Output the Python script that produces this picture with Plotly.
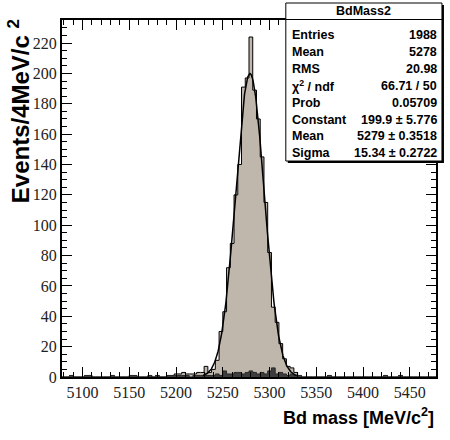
import numpy as np
import plotly.graph_objects as go

# ---------------- data ----------------
bin_low = 5078.0
bin_width = 4.0
total_counts = [
    0, 0, 1, 0, 0, 0, 1, 1, 0, 0,
    0, 0, 0, 1, 0, 0, 0, 0, 1, 1,
    0, 0, 0, 1, 0, 1, 0, 0, 1, 1,
    2, 2, 3, 2, 2, 2, 3, 3, 7, 3,
    5, 11, 30, 43, 72, 88, 120, 140, 191, 197,
    224, 189, 170, 145, 115, 82, 46, 36, 22, 12,
    7, 6, 3, 1, 0, 0, 0, 0, 0, 0,
    0, 1, 0, 0, 0, 0, 0, 0, 0, 0,
    0, 0, 0, 0, 0, 0, 1, 0, 0, 0,
    1, 0, 0, 0, 0, 0, 0, 0, 0, 0,
]
bkg_counts = [
    0, 0, 1, 0, 0, 0, 1, 1, 0, 0,
    0, 0, 0, 1, 0, 0, 0, 0, 1, 1,
    0, 0, 0, 1, 0, 1, 0, 0, 1, 1,
    1, 1, 1, 1, 0, 1, 1, 1, 1, 1,
    1, 2, 1, 4, 2, 2, 3, 3, 2, 3,
    4, 3, 2, 3, 2, 4, 6, 2, 3, 2,
    1, 2, 1, 1, 0, 0, 0, 0, 0, 0,
    0, 1, 0, 0, 0, 0, 0, 0, 0, 0,
    0, 0, 0, 0, 0, 0, 1, 0, 0, 0,
    1, 0, 0, 0, 0, 0, 0, 0, 0, 0,
]
fit_constant = 199.9
fit_mean = 5279.0
fit_sigma = 15.34
fit_range = [5229.0, 5329.0]

x_ticks = [5100, 5150, 5200, 5250, 5300, 5350, 5400, 5450]
y_ticks = [0, 20, 40, 60, 80, 100, 120, 140, 160, 180, 200, 220]

stats_title = "BdMass2"
stats_labels = ["Entries", "Mean", "RMS", "χ<sup>2</sup> / ndf", "Prob", "Constant", "Mean", "Sigma"]
stats_values = ["1988", "5278", "20.98", "66.71 / 50", "0.05709",
                "199.9 ± 5.776", "5279 ± 0.3518", "15.34 ± 0.2722"]

# ---------------- figure ----------------
W, H = 450, 440
ML, MR, MT, MB = 62, 12, 20, 63
PW, PH = W - ML - MR, H - MT - MB

def px(xp):
    return (xp - ML) / PW

def py(yp):
    return (H - MB - yp) / PH

edges = [bin_low + bin_width * i for i in range(len(total_counts) + 1)]

fig = go.Figure()
fig.add_trace(go.Scatter(
    x=edges, y=total_counts + [total_counts[-1]], mode="lines", line_shape="hv",
    fill="tozeroy", fillcolor="#bfb6ac", line=dict(color="black", width=1),
    hoverinfo="skip", showlegend=False))
fig.add_trace(go.Scatter(
    x=edges, y=bkg_counts + [bkg_counts[-1]], mode="lines", line_shape="hv",
    fill="tozeroy", fillcolor="#3d3d3d", line=dict(color="#2a2a2a", width=1),
    hoverinfo="skip", showlegend=False))

xf = np.linspace(fit_range[0], fit_range[1], 400)
yf = fit_constant * np.exp(-0.5 * ((xf - fit_mean) / fit_sigma) ** 2)
fig.add_trace(go.Scatter(x=xf, y=yf, mode="lines", line=dict(color="black", width=1.5),
                         hoverinfo="skip", showlegend=False))

serif = "Liberation Serif, Times New Roman, DejaVu Serif, serif"
tickfont = dict(family=serif, size=16, color="#222")
axcommon = dict(ticks="inside", ticklen=10, tickwidth=1, tickcolor="black",
                mirror="allticks", showline=True, linewidth=2, linecolor="black",
                showgrid=False, zeroline=False, tickfont=tickfont)

fig.update_xaxes(range=[bin_low, bin_low + bin_width * len(total_counts)],
                 tickvals=x_ticks, ticktext=[str(v) for v in x_ticks],
                 minor=dict(ticks="inside", ticklen=5, dtick=10, tick0=5100,
                            tickcolor="black", tickwidth=1, showgrid=False),
                 **axcommon)
fig.update_yaxes(range=[0, 235.2], tickvals=y_ticks, ticktext=[str(v) for v in y_ticks],
                 minor=dict(ticks="inside", ticklen=5, dtick=5, tick0=0,
                            tickcolor="black", tickwidth=1, showgrid=False),
                 **axcommon)

shapes = []
annotations = []
# stats box with shadow
bx0, bx1, by0, by1 = 287, 444, 3, 161
shapes.append(dict(type="rect", xref="paper", yref="paper",
                   x0=px(bx0 + 2), x1=px(bx1 + 2), y0=py(by1 + 2), y1=py(by0 + 2),
                   fillcolor="black", line=dict(width=0)))
shapes.append(dict(type="rect", xref="paper", yref="paper",
                   x0=px(bx0), x1=px(bx1), y0=py(by1), y1=py(by0),
                   fillcolor="white", line=dict(color="black", width=1)))
shapes.append(dict(type="line", xref="paper", yref="paper",
                   x0=px(bx0), x1=px(bx1), y0=py(19.5), y1=py(19.5),
                   line=dict(color="black", width=1)))

boxfont = dict(family="Liberation Sans", size=12.5, color="black")
annotations.append(dict(xref="paper", yref="paper", x=px((bx0 + bx1) / 2), y=py(11),
                        text="<b>%s</b>" % stats_title, showarrow=False,
                        xanchor="center", yanchor="middle", font=boxfont))
for i, (lab, val) in enumerate(zip(stats_labels, stats_values)):
    yy = py(35 + i * 16.9)
    annotations.append(dict(xref="paper", yref="paper", x=px(bx0 + 4), y=yy,
                            text="<b>%s</b>" % lab, showarrow=False,
                            xanchor="left", yanchor="middle", font=boxfont))
    annotations.append(dict(xref="paper", yref="paper", x=px(bx1 - 3), y=yy,
                            text="<b>%s</b>" % val, showarrow=False,
                            xanchor="right", yanchor="middle", font=boxfont))

annotations.append(dict(xref="paper", yref="paper", x=px(438), y=py(416),
                        text="<b>Bd mass [MeV/c<sup>2</sup>]</b>", showarrow=False,
                        xanchor="right", yanchor="middle",
                        font=dict(family="Liberation Sans", size=18, color="black")))
annotations.append(dict(xref="paper", yref="paper", x=px(19), y=py(17),
                        text="<b>Events/4MeV/c <sup>2</sup></b>", showarrow=False, textangle=-90,
                        xanchor="center", yanchor="top",
                        font=dict(family="Liberation Sans", size=24, color="black")))

fig.update_layout(width=W, height=H, margin=dict(l=ML, r=MR, t=MT, b=MB),
                  paper_bgcolor="white", plot_bgcolor="white",
                  font=dict(family=serif),
                  shapes=shapes, annotations=annotations, showlegend=False)

fig.write_html("out.html")
